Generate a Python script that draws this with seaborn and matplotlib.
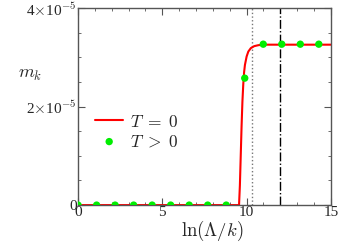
import matplotlib
matplotlib.use("Agg")
import matplotlib.pyplot as plt
import seaborn as sns
import numpy as np
from matplotlib.ticker import FixedLocator, MultipleLocator

# T = 0 curve
line_x = [0, 9.55, 9.6, 9.65, 9.7, 9.75, 9.8, 9.85, 9.9, 10.0, 10.1, 10.25, 10.45, 10.7, 11.0, 15]
line_y = [0, 0, 0.4e-5, 1.0e-5, 1.6e-5, 2.1e-5, 2.45e-5, 2.7e-5, 2.85e-5, 3.02e-5,
          3.12e-5, 3.19e-5, 3.23e-5, 3.25e-5, 3.26e-5, 3.26e-5]

# T > 0 points
pts_x = [0, 1.099, 2.197, 3.296, 4.394, 5.493, 6.592, 7.690, 8.789, 9.888,
         10.986, 12.085, 13.183, 14.282]
pts_y = [0, 0, 0, 0, 0, 0, 0, 0, 0, 2.58e-5, 3.27e-5, 3.27e-5, 3.27e-5, 3.27e-5]

vlines = [10.33, 12.0]

sns.set_style("ticks")
plt.rcParams['font.family'] = ['Liberation Serif', 'DejaVu Serif']
plt.rcParams['mathtext.fontset'] = 'cm'

fig = plt.figure(figsize=(3.38, 2.43), dpi=100)
ax = fig.add_axes([0.231, 0.156, 0.748, 0.810])

ax.axvline(vlines[0], color='#777777', ls=':', lw=1.0)
ax.axvline(vlines[1], color='black', ls='-.', lw=1.0)
sns.lineplot(x=line_x, y=line_y, ax=ax, color='red', lw=1.5, label=r'$T\;=\;0$')
sns.scatterplot(x=pts_x, y=pts_y, ax=ax, color='#00ee00', s=28, edgecolor='none',
                label=r'$T\;>\;0$', zorder=3)

ax.set_xlim(0, 15)
ax.set_ylim(0, 4e-5)
ax.xaxis.set_major_locator(FixedLocator([0, 5, 10, 15]))
ax.xaxis.set_minor_locator(MultipleLocator(1))
ax.yaxis.set_major_locator(FixedLocator([0, 2e-5, 4e-5]))
ax.yaxis.set_minor_locator(MultipleLocator(0.5e-5))
ax.set_yticklabels(['0', r'2$\times$10$^{-5}$', r'4$\times$10$^{-5}$'])
ax.set_xticklabels(['0', '5', '10', '15'])
ax.tick_params(which='both', direction='in', top=True, right=True, labelsize=11, pad=1,
               color='#555555')
ax.tick_params(which='major', length=5)
ax.tick_params(which='minor', length=2.5)
for s in ax.spines.values():
    s.set_color('#555555')
    s.set_linewidth(1.0)

ax.set_xlabel(r'$\ln(\Lambda/k)$', fontsize=13.5, labelpad=1)
ax.xaxis.set_label_coords(0.53, -0.07)
ax.xaxis.label.set_va('top')
ax.set_ylabel(r'$m_k$', fontsize=13, rotation=0, va='center')
ax.yaxis.set_label_coords(-0.19, 0.665)

ax.legend(loc='center left', bbox_to_anchor=(0.02, 0.37), frameon=False, fontsize=12.5,
          handlelength=1.6, handletextpad=0.4, labelspacing=0.2, borderpad=0.2)

fig.savefig('out.png', dpi=100)
